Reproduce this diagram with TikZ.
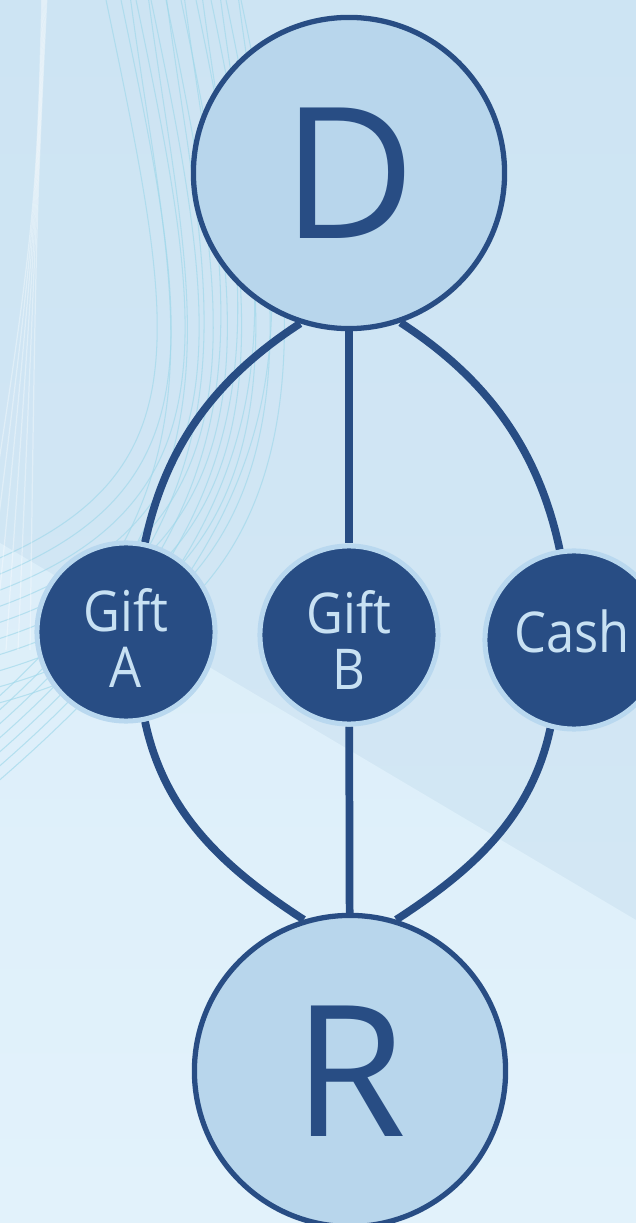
\documentclass[tikz,border=0pt]{standalone}
\usepackage{fontspec}
\setmainfont{Open Sans}
\newfontfamily\labelfont[FakeStretch=0.9]{Open Sans}
\usetikzlibrary{calc}

\definecolor{navy}{HTML}{284D84}
\definecolor{pale}{HTML}{B8D6EC}
\definecolor{ring}{HTML}{B9D8EF}
\definecolor{labeltxt}{HTML}{C8E1F3}
\definecolor{bgtop}{HTML}{CDE4F3}
\definecolor{bgmid}{HTML}{D5E8F5}
\definecolor{bglow}{HTML}{DCEEF9}
\definecolor{bgbot}{HTML}{E2F2FB}
\definecolor{wave}{HTML}{9FD8EA}

\pgfdeclarelayer{back}
\pgfdeclarelayer{edges}
\pgfsetlayers{back,edges,main}

\tikzset{
  bignode/.style={circle, draw=navy, fill=pale, line width=1.5pt,
    minimum size=3.11cm, inner sep=0pt, text=navy,
    font=\fontsize{52}{52}\selectfont},
  smallnode/.style={circle, draw=ring, fill=navy, line width=1.42pt,
    minimum size=1.78cm, inner sep=0pt},
  smalltext/.style={anchor=base, inner sep=0pt, text=labeltxt,
    font=\labelfont\fontsize{16}{16}\selectfont},
  link/.style={draw=navy, line width=2.2pt},
  waveline/.style={draw=wave, line width=0.3pt, opacity=0.65},
  whiteline/.style={draw=white, line width=0.35pt, opacity=0.35},
}

\begin{document}
\begin{tikzpicture}[x=0.01cm, y=0.01cm]
\useasboundingbox (0,0) rectangle (636,1223);

% background panels and the decorative fan of thin curves
\begin{pgfonlayer}{back}
  \shade[top color=bgtop, bottom color=bgmid] (0,0) rectangle (636,1223);
  \shade[top color=bglow, bottom color=bgbot] (0,680) -- (636,303) -- (636,0) -- (0,0) -- cycle;
  \begin{scope}
    \clip (0,0) rectangle (636,1223);
    \foreach \i in {0,...,9} {
      \pgfmathsetmacro{\xs}{105+15*\i}
      \pgfmathsetmacro{\ye}{560+16*\i}
      \draw[waveline] (\xs,1228) .. controls ({\xs+70},893) and ({\xs+100},{1223-\ye+90}) .. (-5,{1223-\ye});
    }
    \foreach \i in {0,...,6} {
      \pgfmathsetmacro{\xs}{130+18*\i}
      \pgfmathsetmacro{\ye}{700+14*\i}
      \draw[waveline] (\xs,1228) .. controls ({\xs+40},923) and ({\xs+110},743) .. (-5,{1223-\ye});
    }
    \foreach \i in {0,...,5} {
      \draw[whiteline] ({42+\i},1228) .. controls (36,1000) .. ({-30+12*\i},573);
    }
  \end{scope}
\end{pgfonlayer}

% nodes
\node[bignode] (D) at (349,1050) {D};
\node[bignode] (R) at (350,152) {R};
\node[smallnode] (A) at (126,591) {};
\node[smallnode] (B) at (349,588) {};
\node[smallnode] (C) at (574,583) {};

\node[smalltext] (A1) at (126,591) {Gift};
\node[smalltext] (A2) at (126,535) {A};
\node[smalltext] (B1) at (349,589) {Gift};
\node[smalltext] (B2) at (349,533) {B};
\node[smalltext] (C1) at (572,570) {Cash};

% connectors
\begin{pgfonlayer}{edges}
  \draw[link] (D.252) to[out=213, in=78, looseness=0.95] (A.78);
  \draw[link] (A.282) to[out=282, in=147, looseness=0.95] (R.107);
  \draw[link] (D.289) to[out=327, in=102, looseness=0.95] (C.99);
  \draw[link] (C.255) to[out=258, in=33, looseness=0.95] (R.73);
  \draw[link] (D) -- (B);
  \draw[link] (B) -- (R);
\end{pgfonlayer}
\end{tikzpicture}
\end{document}
